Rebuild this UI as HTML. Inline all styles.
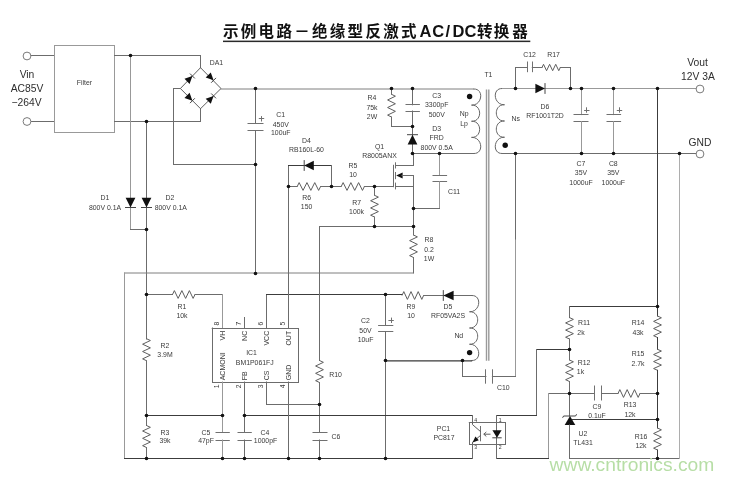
<!DOCTYPE html>
<html lang="zh"><head><meta charset="utf-8"><title>示例电路－绝缘型反激式AC/DC转换器</title>
<style>
html,body{margin:0;padding:0;background:#fff}
body{width:734px;height:480px;overflow:hidden}
svg{display:block;filter:blur(0.35px)}
.w{fill:none;stroke:#6c6c6c;stroke-width:1;stroke-linejoin:miter;stroke-linecap:square}
.l{stroke:#999}.ll{stroke:#adadad}.l2{stroke:#7e7e7e}.m{stroke:#6c6c6c}.d{stroke:#3c3c3c}
.z{stroke:#5e5e5e;stroke-linecap:butt}
.p{stroke:#707070;stroke-linecap:butt}
.q{stroke:#666;stroke-linecap:butt}
.b{stroke:#444;stroke-linecap:butt}
.c{stroke:#9a9a9a;stroke-width:1.4;stroke-linecap:butt}
.k{stroke:#383838;stroke-width:1.25}
.j{fill:#111}
.f{fill:#111}
.t{fill:#fff;stroke:#7a7a7a;stroke-width:1}
text{font-family:"Liberation Sans","Noto Sans CJK SC",sans-serif;text-anchor:middle}
.s{fill:#3a3a3a}
.bt{fill:#2e2e2e}
.ti{font-size:15.5px;font-weight:bold;fill:#111;text-anchor:start}
.la{font-size:16.5px}
.wm{text-anchor:start}
</style></head><body>
<svg width="734" height="480" viewBox="0 0 734 480">
<rect width="734" height="480" fill="#fff"/>
<text class="ti" y="37.4"><tspan x="223 240.8 258.6 276.4 294.2 312 329.8 347.6 365.4 383.2 401">示例电路－绝缘型反激式</tspan><tspan class="la" x="419.4 432.2 445.6 452.4 464.6" y="37.1">AC/DC</tspan><tspan x="476.9 493.8 512.2" y="37.4">转换器</tspan></text>
<rect x="223" y="40.6" width="307.3" height="1.5" fill="#2a2a2a"/>
<line class="w m" x1="30.5" y1="55.5" x2="54.5" y2="55.5"/>
<line class="w m" x1="30.5" y1="121.5" x2="54.5" y2="121.5"/>
<line class="w l" x1="54.5" y1="45.5" x2="114.5" y2="45.5"/>
<line class="w l" x1="114.5" y1="45.5" x2="114.5" y2="132.5"/>
<line class="w l" x1="114.5" y1="132.5" x2="54.5" y2="132.5"/>
<line class="w l" x1="54.5" y1="132.5" x2="54.5" y2="45.5"/>
<circle class="t" cx="27" cy="56" r="3.9"/>
<circle class="t" cx="27" cy="121.5" r="3.9"/>
<line class="w m" x1="114.5" y1="55.5" x2="200.5" y2="55.5"/>
<line class="w m" x1="200.5" y1="55.5" x2="200.5" y2="67.7"/>
<line class="w m" x1="114.5" y1="121.5" x2="200.5" y2="121.5"/>
<line class="w m" x1="200.5" y1="121.5" x2="200.5" y2="108.7"/>
<polygon class="w z" points="200.5,67.7 221,88.5 200.5,108.7 180.4,88.5"/>
<polygon class="f" points="192.4,76 189.58,83.92 184.48,78.82"/>
<polyline class="w b" points="190,73.59 194.81,78.4" stroke-width="0.8"/>
<polygon class="f" points="213.6,80.3 205.68,77.48 210.78,72.38"/>
<polyline class="w b" points="216.01,77.9 211.2,82.71" stroke-width="0.8"/>
<polygon class="f" points="192.4,100.7 184.48,97.88 189.58,92.78"/>
<polyline class="w b" points="194.81,98.3 190,103.11" stroke-width="0.8"/>
<polygon class="f" points="213.6,95.9 210.78,103.82 205.68,98.72"/>
<polyline class="w b" points="211.2,93.49 216.01,98.3" stroke-width="0.8"/>
<line class="w m" x1="180.4" y1="88.5" x2="173.5" y2="88.5"/>
<line class="w m" x1="173.5" y1="88.5" x2="173.5" y2="164.5"/>
<line class="w m" x1="173.5" y1="164.5" x2="255.4" y2="164.5"/>
<line class="w l2" x1="221" y1="89" x2="473.5" y2="89"/>
<line class="w m" x1="255.5" y1="88.4" x2="255.5" y2="123.5"/>
<line class="w p" x1="247.5" y1="123.5" x2="263.5" y2="123.5"/>
<line class="w p" x1="247.5" y1="130.5" x2="263.5" y2="130.5"/>
<line class="w m" x1="255.5" y1="130.5" x2="255.5" y2="273"/>
<line class="w p" x1="258.8" y1="118.5" x2="264.2" y2="118.5" stroke-width="0.9"/>
<line class="w p" x1="261.5" y1="116.1" x2="261.5" y2="121.5" stroke-width="0.9"/>
<line class="w l" x1="130.5" y1="55.5" x2="130.5" y2="229.5"/>
<line class="w m" x1="130.5" y1="229.5" x2="146" y2="229.5"/>
<line class="w m" x1="146.5" y1="121.3" x2="146.5" y2="339"/>
<polygon class="f" points="125.6,197.7 135.4,197.7 130.5,207.5"/>
<line class="w b" x1="125" y1="207.5" x2="136" y2="207.5"/>
<polygon class="f" points="141.6,197.7 151.4,197.7 146.5,207.5"/>
<line class="w b" x1="141" y1="207.5" x2="152" y2="207.5"/>
<polyline class="w z" points="146.5,338.7 150.4,340.53 142.6,344.2 150.4,347.87 142.6,351.53 150.4,355.2 142.6,358.87 146.5,360.7"/>
<line class="w m" x1="146.5" y1="360.7" x2="146.5" y2="425.5"/>
<polyline class="w z" points="146.5,425.5 150.4,427.33 142.6,431 150.4,434.67 142.6,438.33 150.4,442 142.6,445.67 146.5,447.5"/>
<line class="w m" x1="146.5" y1="447.5" x2="146.5" y2="458"/>
<line class="w l2" x1="413" y1="273" x2="124.5" y2="273"/>
<line class="w l" x1="124.5" y1="273" x2="124.5" y2="458.5"/>
<line class="w d" x1="124.5" y1="458.5" x2="472.5" y2="458.5"/>
<line class="w m" x1="472.5" y1="458.5" x2="472.5" y2="444"/>
<line class="w m" x1="146" y1="294.5" x2="172.5" y2="294.5"/>
<polyline class="w z" points="172.5,294.5 174.38,290.6 178.12,298.4 181.88,290.6 185.62,298.4 189.38,290.6 193.12,298.4 195,294.5"/>
<line class="w m" x1="195" y1="294.5" x2="222.5" y2="294.5"/>
<line class="w l" x1="222.5" y1="294.5" x2="222.5" y2="328"/>
<line class="w m" x1="212.2" y1="328.5" x2="298.5" y2="328.5"/>
<line class="w m" x1="298.5" y1="328.5" x2="298.5" y2="382.5"/>
<line class="w m" x1="298.5" y1="382.5" x2="212.5" y2="382.5"/>
<line class="w m" x1="212.5" y1="382.5" x2="212.5" y2="328"/>
<line class="w m" x1="244.5" y1="317.5" x2="244.5" y2="328"/>
<line class="w m" x1="266.5" y1="328" x2="266.5" y2="294.5"/>
<line class="w d" x1="266.5" y1="294.5" x2="402" y2="294.5"/>
<polyline class="w z" points="402,295.5 403.8,291.6 407.4,299.4 411,291.6 414.6,299.4 418.2,291.6 421.8,299.4 423.6,295.5"/>
<line class="w m" x1="423.6" y1="295.5" x2="471.5" y2="295.5"/>
<polygon class="f" points="453.6,290.7 453.6,300.3 443.3,295.5"/>
<line class="w b" x1="443.3" y1="290.1" x2="443.3" y2="300.9"/>
<line class="w m" x1="288.5" y1="328" x2="288.5" y2="165.5"/>
<line class="w d" x1="288.5" y1="165.5" x2="331.5" y2="165.5"/>
<line class="w m" x1="331.5" y1="165.5" x2="331.5" y2="186.7"/>
<polygon class="f" points="313.8,160.7 313.8,170.3 304.2,165.5"/>
<line class="w b" x1="304.2" y1="160.1" x2="304.2" y2="170.9"/>
<line class="w m" x1="288.5" y1="186.5" x2="297.2" y2="186.5"/>
<polyline class="w z" points="297.2,186.5 299.15,182.6 303.05,190.4 306.95,182.6 310.85,190.4 314.75,182.6 318.65,190.4 320.6,186.5"/>
<line class="w m" x1="320.6" y1="186.5" x2="341.2" y2="186.5"/>
<polyline class="w z" points="341.2,186.5 343.13,182.6 347,190.4 350.87,182.6 354.73,190.4 358.6,182.6 362.47,190.4 364.4,186.5"/>
<line class="w m" x1="364.4" y1="186.5" x2="393.2" y2="186.5"/>
<line class="w m" x1="374.5" y1="186.7" x2="374.5" y2="195.3"/>
<polyline class="w z" points="374.5,195.3 378.4,197.11 370.6,200.73 378.4,204.34 370.6,207.96 378.4,211.58 370.6,215.19 374.5,217"/>
<line class="w m" x1="374.5" y1="217" x2="374.5" y2="226.6"/>
<line class="w m" x1="319.6" y1="226.5" x2="413" y2="226.5"/>
<line class="w m" x1="319.5" y1="226.6" x2="319.5" y2="360.5"/>
<polyline class="w z" points="319.5,360.5 323.4,362.33 315.6,366 323.4,369.67 315.6,373.33 323.4,377 315.6,380.67 319.5,382.5"/>
<line class="w m" x1="319.5" y1="382.5" x2="319.5" y2="432.5"/>
<line class="w p" x1="312.5" y1="432.5" x2="327.5" y2="432.5"/>
<line class="w p" x1="312.5" y1="440.5" x2="327.5" y2="440.5"/>
<line class="w m" x1="319.5" y1="440" x2="319.5" y2="458"/>
<line class="w m" x1="413.5" y1="153.6" x2="413.5" y2="165.5"/>
<line class="w m" x1="413.5" y1="165.5" x2="395.8" y2="165.5"/>
<line class="w p" x1="395.5" y1="162.3" x2="395.5" y2="168.5"/>
<line class="w p" x1="395.5" y1="172" x2="395.5" y2="179.2"/>
<line class="w p" x1="395.5" y1="182.6" x2="395.5" y2="189.4"/>
<line class="w m" x1="393.5" y1="165.3" x2="393.5" y2="186.7"/>
<polygon class="f" points="396.2,175.5 402.6,172.5 402.6,178.5"/>
<line class="w m" x1="402" y1="175.5" x2="413" y2="175.5"/>
<line class="w m" x1="395.8" y1="186.5" x2="413" y2="186.5"/>
<line class="w m" x1="413.5" y1="175.6" x2="413.5" y2="235"/>
<polyline class="w z" points="413.5,235 417.4,236.88 409.6,240.62 417.4,244.38 409.6,248.12 417.4,251.88 409.6,255.62 413.5,257.5"/>
<line class="w m" x1="413.5" y1="257.5" x2="413.5" y2="273"/>
<line class="w m" x1="391.5" y1="88.4" x2="391.5" y2="94.3"/>
<polyline class="w z" points="391.5,94.3 395.4,96.19 387.6,99.97 395.4,103.76 387.6,107.54 395.4,111.32 387.6,115.11 391.5,117"/>
<line class="w m" x1="391.5" y1="117" x2="391.5" y2="126.5"/>
<line class="w m" x1="391.5" y1="126.5" x2="412.7" y2="126.5"/>
<line class="w m" x1="412.5" y1="88.4" x2="412.5" y2="104.8"/>
<line class="w p" x1="405.5" y1="104.5" x2="419.9" y2="104.5"/>
<line class="w p" x1="405.5" y1="111.5" x2="419.9" y2="111.5"/>
<line class="w m" x1="412.5" y1="111" x2="412.5" y2="153.6"/>
<polygon class="f" points="407.6,144.4 417.4,144.4 412.5,134.7"/>
<line class="w b" x1="407" y1="134.7" x2="418" y2="134.7"/>
<line class="w m" x1="412.7" y1="153.5" x2="473.5" y2="153.5"/>
<line class="w l" x1="439.5" y1="153.6" x2="439.5" y2="175.2"/>
<line class="w p" x1="432.5" y1="175.5" x2="447.1" y2="175.5"/>
<line class="w p" x1="432.5" y1="181.5" x2="447.1" y2="181.5"/>
<line class="w l" x1="439.5" y1="181.8" x2="439.5" y2="208.5"/>
<line class="w m" x1="439.5" y1="208.5" x2="413" y2="208.5"/>
<path class="w q" d="M473.5,89 C484.41,88.5 482.41,105.62 471.5,105.12 C482.41,104.62 482.41,121.75 471.5,121.25 C482.41,120.75 482.41,137.88 471.5,137.38 C482.41,136.88 484.41,154 473.5,153.5"/>
<line class="w c" x1="486.5" y1="89.5" x2="486.5" y2="360.7"/>
<line class="w c" x1="488.8" y1="89.5" x2="488.8" y2="360.7"/>
<path class="w q" d="M502.5,88.5 C491.59,88 493.59,105.25 504.5,104.75 C493.59,104.25 493.59,121.5 504.5,121 C493.59,120.5 493.59,137.75 504.5,137.25 C493.59,136.75 491.59,154 502.5,153.5"/>
<line class="w l" x1="502.5" y1="88.5" x2="696.3" y2="88.5"/>
<polygon class="f" points="535.4,83.7 535.4,93.3 545,88.5"/>
<line class="w b" x1="545" y1="83.1" x2="545" y2="93.9"/>
<line class="w m" x1="515.5" y1="88.6" x2="515.5" y2="67.5"/>
<line class="w m" x1="515.5" y1="67.5" x2="527" y2="67.5"/>
<line class="w p" x1="527.5" y1="61.5" x2="527.5" y2="72.2"/>
<line class="w p" x1="532.5" y1="61.5" x2="532.5" y2="72.2"/>
<line class="w m" x1="532.3" y1="67.5" x2="542" y2="67.5"/>
<polyline class="w z" points="542,67.5 543.52,64.3 546.57,70.7 549.62,64.3 552.67,70.7 555.72,64.3 558.77,70.7 560.3,67.5"/>
<line class="w m" x1="560.3" y1="67.5" x2="570.5" y2="67.5"/>
<line class="w m" x1="570.5" y1="67.5" x2="570.5" y2="88.6"/>
<circle class="t" cx="700" cy="89" r="3.9"/>
<line class="w l" x1="581.5" y1="88.6" x2="581.5" y2="114.6"/>
<line class="w p" x1="573.5" y1="114.5" x2="588.5" y2="114.5"/>
<line class="w p" x1="573.5" y1="121.5" x2="588.5" y2="121.5"/>
<line class="w l" x1="581.5" y1="121.6" x2="581.5" y2="153.6"/>
<line class="w p" x1="584.1" y1="110.5" x2="589.5" y2="110.5" stroke-width="0.9"/>
<line class="w p" x1="586.5" y1="107.3" x2="586.5" y2="112.7" stroke-width="0.9"/>
<line class="w l" x1="613.5" y1="88.6" x2="613.5" y2="114.6"/>
<line class="w p" x1="606.5" y1="114.5" x2="621.1" y2="114.5"/>
<line class="w p" x1="606.5" y1="121.5" x2="621.1" y2="121.5"/>
<line class="w l" x1="613.5" y1="121.6" x2="613.5" y2="153.6"/>
<line class="w p" x1="616.8" y1="110.5" x2="622.2" y2="110.5" stroke-width="0.9"/>
<line class="w p" x1="619.5" y1="107.3" x2="619.5" y2="112.7" stroke-width="0.9"/>
<line class="w m" x1="502.5" y1="153.5" x2="696.3" y2="153.5"/>
<circle class="t" cx="700" cy="154" r="3.9"/>
<line class="w m" x1="515.5" y1="153.6" x2="515.5" y2="240"/>
<line class="w l" x1="515.5" y1="240" x2="515.5" y2="376.5"/>
<line class="w m" x1="515.5" y1="376.5" x2="492.4" y2="376.5"/>
<line class="w p" x1="485.5" y1="369.3" x2="485.5" y2="383.7"/>
<line class="w p" x1="492.5" y1="369.3" x2="492.5" y2="383.7"/>
<line class="w m" x1="485.9" y1="376.5" x2="462.5" y2="376.5"/>
<line class="w m" x1="462.5" y1="376.5" x2="462.5" y2="360.7"/>
<path class="w q" d="M471.5,295.5 C482.41,295 480.41,312.25 469.5,311.75 C480.41,311.25 480.41,328.5 469.5,328 C480.41,327.5 480.41,344.75 469.5,344.25 C480.41,343.75 482.41,361 471.5,360.5"/>
<line class="w k" x1="471.5" y1="360.9" x2="385.7" y2="360.9"/>
<line class="w m" x1="385.5" y1="294.5" x2="385.5" y2="325"/>
<line class="w p" x1="378.1" y1="325.5" x2="393.3" y2="325.5"/>
<line class="w p" x1="378.1" y1="331.5" x2="393.3" y2="331.5"/>
<line class="w m" x1="385.5" y1="331.7" x2="385.5" y2="458"/>
<line class="w p" x1="388.4" y1="320.5" x2="393.8" y2="320.5" stroke-width="0.9"/>
<line class="w p" x1="391.5" y1="317.6" x2="391.5" y2="323" stroke-width="0.9"/>
<line class="w d" x1="657.5" y1="88.6" x2="657.5" y2="316"/>
<polyline class="w z" points="657.5,316 661.4,317.79 653.6,321.38 661.4,324.96 653.6,328.54 661.4,332.12 653.6,335.71 657.5,337.5"/>
<line class="w d" x1="657.5" y1="337.5" x2="657.5" y2="349.3"/>
<polyline class="w z" points="657.5,349.3 661.4,351.05 653.6,354.55 661.4,358.05 653.6,361.55 661.4,365.05 653.6,368.55 657.5,370.3"/>
<line class="w d" x1="657.5" y1="370.3" x2="657.5" y2="428"/>
<polyline class="w z" points="657.5,428 661.4,429.83 653.6,433.5 661.4,437.17 653.6,440.83 661.4,444.5 653.6,448.17 657.5,450"/>
<line class="w d" x1="657.5" y1="450" x2="657.5" y2="458"/>
<line class="w d" x1="657.5" y1="306.5" x2="569.5" y2="306.5"/>
<line class="w m" x1="569.5" y1="306.5" x2="569.5" y2="317.6"/>
<polyline class="w z" points="569.5,317.6 573.4,319.38 565.6,322.95 573.4,326.52 565.6,330.08 573.4,333.65 565.6,337.22 569.5,339"/>
<line class="w m" x1="569.5" y1="339" x2="569.5" y2="360"/>
<polyline class="w z" points="569.5,360 573.4,361.79 565.6,365.38 573.4,368.96 565.6,372.54 573.4,376.12 565.6,379.71 569.5,381.5"/>
<line class="w m" x1="569.5" y1="381.5" x2="569.5" y2="416"/>
<line class="w d" x1="569.5" y1="349.5" x2="536.5" y2="349.5"/>
<line class="w m" x1="536.5" y1="349.5" x2="536.5" y2="415.5"/>
<line class="w d" x1="536.5" y1="415.5" x2="496.5" y2="415.5"/>
<line class="w m" x1="496.5" y1="415.5" x2="496.5" y2="422.5"/>
<line class="w m" x1="569.5" y1="393.5" x2="548.5" y2="393.5"/>
<line class="w l" x1="548.5" y1="393.5" x2="548.5" y2="458.5"/>
<line class="w d" x1="548.5" y1="458.5" x2="496.5" y2="458.5"/>
<line class="w m" x1="496.5" y1="458.5" x2="496.5" y2="444"/>
<line class="w m" x1="569.5" y1="393.5" x2="594.5" y2="393.5"/>
<line class="w p" x1="594.5" y1="385.5" x2="594.5" y2="400.5"/>
<line class="w p" x1="601.5" y1="385.5" x2="601.5" y2="400.5"/>
<line class="w m" x1="601.5" y1="393.5" x2="618" y2="393.5"/>
<polyline class="w z" points="618,393.5 619.83,389.6 623.5,397.4 627.17,389.6 630.83,397.4 634.5,389.6 638.17,397.4 640,393.5"/>
<line class="w m" x1="640" y1="393.5" x2="657.5" y2="393.5"/>
<polyline class="w b" points="562.6,417.8 563.6,416 575.6,416 576.6,414.2"/>
<polygon class="f" points="570,416 564.7,425 575.3,425"/>
<line class="w m" x1="569.5" y1="425" x2="569.5" y2="458.5"/>
<line class="w m" x1="569.5" y1="458.5" x2="679.5" y2="458.5"/>
<line class="w ll" x1="679.5" y1="458.5" x2="679.5" y2="153.6"/>
<line class="w d" x1="572.5" y1="419.5" x2="657.5" y2="419.5"/>
<line class="w l" x1="222.5" y1="382" x2="222.5" y2="432.5"/>
<line class="w p" x1="215.5" y1="432.5" x2="229.8" y2="432.5"/>
<line class="w p" x1="215.5" y1="440.5" x2="229.8" y2="440.5"/>
<line class="w l" x1="222.5" y1="440" x2="222.5" y2="458"/>
<line class="w d" x1="146" y1="415.5" x2="222.7" y2="415.5"/>
<line class="w m" x1="244.5" y1="382" x2="244.5" y2="432.5"/>
<line class="w p" x1="237.5" y1="432.5" x2="251.8" y2="432.5"/>
<line class="w p" x1="237.5" y1="440.5" x2="251.8" y2="440.5"/>
<line class="w m" x1="244.5" y1="440" x2="244.5" y2="458"/>
<line class="w d" x1="244.7" y1="415.5" x2="472.5" y2="415.5"/>
<line class="w m" x1="472.5" y1="415.5" x2="472.5" y2="422.5"/>
<line class="w m" x1="266.5" y1="382" x2="266.5" y2="404.5"/>
<line class="w m" x1="266.5" y1="404.5" x2="319.6" y2="404.5"/>
<line class="w m" x1="288.5" y1="382" x2="288.5" y2="458"/>
<line class="w m" x1="469.3" y1="422.5" x2="505.5" y2="422.5"/>
<line class="w m" x1="505.5" y1="422.5" x2="505.5" y2="444.5"/>
<line class="w m" x1="505.5" y1="444.5" x2="469.5" y2="444.5"/>
<line class="w m" x1="469.5" y1="444.5" x2="469.5" y2="422.5"/>
<line class="w p" x1="480.5" y1="426" x2="480.5" y2="441.3"/>
<polyline class="w z" points="472.5,422.5 472.5,424.6 480.8,431.8"/>
<polyline class="w z" points="480.8,435.2 472.5,442.2 472.5,444"/>
<polygon class="f" points="472.6,442.4 475.4,436.4 478.8,440.3"/>
<line class="w m" x1="496.5" y1="422.5" x2="496.5" y2="444"/>
<polygon class="f" points="492.4,430.2 501.6,430.2 497,437.8"/>
<line class="w b" x1="492.3" y1="437.8" x2="501.7" y2="437.8"/>
<polyline class="w z" points="490.5,434.2 483.8,434.2" stroke-width="0.8"/>
<polyline class="w z" points="486.3,432 483.8,434.2 486.3,436.4" stroke-width="0.8"/>
<circle class="j" cx="130.5" cy="55.5" r="1.8"/>
<circle class="j" cx="146.5" cy="121.5" r="1.8"/>
<circle class="j" cx="255.5" cy="164.5" r="1.8"/>
<circle class="j" cx="255.5" cy="88.5" r="1.8"/>
<circle class="j" cx="391.5" cy="88.5" r="1.8"/>
<circle class="j" cx="412.5" cy="88.5" r="1.8"/>
<circle class="j" cx="255.5" cy="273.5" r="1.8"/>
<circle class="j" cx="146.5" cy="229.5" r="1.8"/>
<circle class="j" cx="146.5" cy="294.5" r="1.8"/>
<circle class="j" cx="146.5" cy="415.5" r="1.8"/>
<circle class="j" cx="146.5" cy="458.5" r="1.8"/>
<circle class="j" cx="385.5" cy="294.5" r="1.8"/>
<circle class="j" cx="288.5" cy="186.5" r="1.8"/>
<circle class="j" cx="331.5" cy="186.5" r="1.8"/>
<circle class="j" cx="374.5" cy="186.5" r="1.8"/>
<circle class="j" cx="374.5" cy="226.5" r="1.8"/>
<circle class="j" cx="413.5" cy="226.5" r="1.8"/>
<circle class="j" cx="319.5" cy="404.5" r="1.8"/>
<circle class="j" cx="319.5" cy="458.5" r="1.8"/>
<circle class="j" cx="413.5" cy="208.5" r="1.8"/>
<circle class="j" cx="412.5" cy="126.5" r="1.8"/>
<circle class="j" cx="412.5" cy="153.5" r="1.8"/>
<circle class="j" cx="439.5" cy="153.5" r="1.8"/>
<circle class="j" cx="469.6" cy="96.5" r="2.7"/>
<circle class="j" cx="505.2" cy="145.3" r="2.7"/>
<circle class="j" cx="515.5" cy="88.5" r="1.8"/>
<circle class="j" cx="570.5" cy="88.5" r="1.8"/>
<circle class="j" cx="581.5" cy="88.5" r="1.8"/>
<circle class="j" cx="613.5" cy="88.5" r="1.8"/>
<circle class="j" cx="657.5" cy="88.5" r="1.8"/>
<circle class="j" cx="581.5" cy="153.5" r="1.8"/>
<circle class="j" cx="613.5" cy="153.5" r="1.8"/>
<circle class="j" cx="515.5" cy="153.5" r="1.8"/>
<circle class="j" cx="679.5" cy="153.5" r="1.8"/>
<circle class="j" cx="469.6" cy="352.6" r="2.7"/>
<circle class="j" cx="462.5" cy="360.5" r="1.8"/>
<circle class="j" cx="385.5" cy="360.5" r="1.8"/>
<circle class="j" cx="385.5" cy="458.5" r="1.8"/>
<circle class="j" cx="657.5" cy="306.5" r="1.8"/>
<circle class="j" cx="657.5" cy="393.5" r="1.8"/>
<circle class="j" cx="657.5" cy="419.5" r="1.8"/>
<circle class="j" cx="657.5" cy="458.5" r="1.8"/>
<circle class="j" cx="569.5" cy="349.5" r="1.8"/>
<circle class="j" cx="569.5" cy="393.5" r="1.8"/>
<circle class="j" cx="222.5" cy="415.5" r="1.8"/>
<circle class="j" cx="222.5" cy="458.5" r="1.8"/>
<circle class="j" cx="244.5" cy="415.5" r="1.8"/>
<circle class="j" cx="244.5" cy="458.5" r="1.8"/>
<circle class="j" cx="288.5" cy="458.5" r="1.8"/>
<text class="bt" x="27" y="78.49" font-size="10.3">Vin</text>
<text class="bt" x="27" y="91.99" font-size="10.3">AC85V</text>
<text class="bt" x="26.5" y="105.59" font-size="10.3">−264V</text>
<text class="bt" x="697.5" y="65.99" font-size="10.3">Vout</text>
<text class="bt" x="698" y="79.99" font-size="10.3">12V 3A</text>
<text class="bt" x="700" y="146.49" font-size="10.3">GND</text>
<text class="s" x="84.4" y="85.47" font-size="6.9">Filter</text>
<text class="s" x="216.4" y="64.97" font-size="6.9">DA1</text>
<text class="s" x="280.6" y="117.07" font-size="6.9">C1</text>
<text class="s" x="280.8" y="126.77" font-size="6.9">450V</text>
<text class="s" x="280.8" y="135.47" font-size="6.9">100uF</text>
<text class="s" x="105" y="200.27" font-size="6.9">D1</text>
<text class="s" x="105" y="209.77" font-size="6.9">800V 0.1A</text>
<text class="s" x="170" y="200.27" font-size="6.9">D2</text>
<text class="s" x="170.8" y="209.77" font-size="6.9">800V 0.1A</text>
<text class="s" x="306.5" y="142.77" font-size="6.9">D4</text>
<text class="s" x="306.5" y="152.27" font-size="6.9">RB160L-60</text>
<text class="s" x="353" y="167.97" font-size="6.9">R5</text>
<text class="s" x="353" y="176.97" font-size="6.9">10</text>
<text class="s" x="306.6" y="200.07" font-size="6.9">R6</text>
<text class="s" x="306.6" y="209.37" font-size="6.9">150</text>
<text class="s" x="356.6" y="205.07" font-size="6.9">R7</text>
<text class="s" x="356.6" y="214.17" font-size="6.9">100k</text>
<text class="s" x="372" y="100.47" font-size="6.9">R4</text>
<text class="s" x="372" y="109.77" font-size="6.9">75k</text>
<text class="s" x="372" y="118.77" font-size="6.9">2W</text>
<text class="s" x="436.7" y="97.77" font-size="6.9">C3</text>
<text class="s" x="436.7" y="107.17" font-size="6.9">3300pF</text>
<text class="s" x="436.7" y="116.57" font-size="6.9">500V</text>
<text class="s" x="436.7" y="130.77" font-size="6.9">D3</text>
<text class="s" x="436.7" y="139.77" font-size="6.9" fill="#8a8a8a">FRD</text>
<text class="s" x="436.7" y="149.57" font-size="6.9">800V 0.5A</text>
<text class="s" x="379.5" y="148.57" font-size="6.9">Q1</text>
<text class="s" x="379.5" y="157.77" font-size="6.9">R8005ANX</text>
<text class="s" x="454" y="193.77" font-size="6.9">C11</text>
<text class="s" x="429" y="241.77" font-size="6.9">R8</text>
<text class="s" x="429" y="251.57" font-size="6.9">0.2</text>
<text class="s" x="429" y="260.77" font-size="6.9">1W</text>
<text class="s" x="488.4" y="77.37" font-size="6.9">T1</text>
<text class="s" x="464.2" y="116.27" font-size="6.9">Np</text>
<text class="s" x="464" y="126.17" font-size="6.9">Lp</text>
<text class="s" x="515.7" y="120.77" font-size="6.9">Ns</text>
<text class="s" x="529.5" y="56.77" font-size="6.9">C12</text>
<text class="s" x="553.5" y="56.77" font-size="6.9">R17</text>
<text class="s" x="545" y="109.47" font-size="6.9">D6</text>
<text class="s" x="545" y="118.27" font-size="6.9">RF1001T2D</text>
<text class="s" x="581" y="166.17" font-size="6.9">C7</text>
<text class="s" x="581" y="175.37" font-size="6.9">35V</text>
<text class="s" x="581" y="184.57" font-size="6.9">1000uF</text>
<text class="s" x="613.3" y="166.17" font-size="6.9">C8</text>
<text class="s" x="613.3" y="175.37" font-size="6.9">35V</text>
<text class="s" x="613.3" y="184.57" font-size="6.9">1000uF</text>
<text class="s" x="182" y="308.77" font-size="6.9">R1</text>
<text class="s" x="182" y="318.27" font-size="6.9">10k</text>
<text class="s" x="165" y="347.77" font-size="6.9">R2</text>
<text class="s" x="165" y="357.27" font-size="6.9">3.9M</text>
<text class="s" x="165" y="434.77" font-size="6.9">R3</text>
<text class="s" x="165" y="443.27" font-size="6.9">39k</text>
<text class="s" x="365.5" y="323.27" font-size="6.9">C2</text>
<text class="s" x="365.5" y="332.77" font-size="6.9">50V</text>
<text class="s" x="365.5" y="341.77" font-size="6.9">10uF</text>
<text class="s" x="411" y="309.27" font-size="6.9">R9</text>
<text class="s" x="411" y="318.27" font-size="6.9">10</text>
<text class="s" x="448" y="309.27" font-size="6.9">D5</text>
<text class="s" x="448" y="318.27" font-size="6.9">RF05VA2S</text>
<text class="s" x="458.8" y="338.27" font-size="6.9">Nd</text>
<text class="s" x="503.3" y="389.77" font-size="6.9">C10</text>
<text class="s" x="335.5" y="376.77" font-size="6.9">R10</text>
<text class="s" x="206" y="434.77" font-size="6.9">C5</text>
<text class="s" x="206" y="443.27" font-size="6.9">47pF</text>
<text class="s" x="265" y="434.77" font-size="6.9">C4</text>
<text class="s" x="265.5" y="443.27" font-size="6.9">1000pF</text>
<text class="s" x="336" y="438.77" font-size="6.9">C6</text>
<text class="s" x="443.5" y="430.77" font-size="6.9">PC1</text>
<text class="s" x="444" y="440.27" font-size="6.9">PC817</text>
<text class="s" x="584" y="325.27" font-size="6.9">R11</text>
<text class="s" x="581" y="335.27" font-size="6.9">2k</text>
<text class="s" x="584" y="364.57" font-size="6.9">R12</text>
<text class="s" x="580.5" y="373.77" font-size="6.9">1k</text>
<text class="s" x="638" y="325.27" font-size="6.9">R14</text>
<text class="s" x="638" y="335.27" font-size="6.9">43k</text>
<text class="s" x="638" y="356.37" font-size="6.9">R15</text>
<text class="s" x="638" y="366.27" font-size="6.9">2.7k</text>
<text class="s" x="597" y="408.77" font-size="6.9">C9</text>
<text class="s" x="597" y="417.77" font-size="6.9">0.1uF</text>
<text class="s" x="630" y="407.27" font-size="6.9">R13</text>
<text class="s" x="630" y="416.77" font-size="6.9">12k</text>
<text class="s" x="641" y="438.77" font-size="6.9">R16</text>
<text class="s" x="641" y="447.77" font-size="6.9">12k</text>
<text class="s" x="583" y="435.77" font-size="6.9">U2</text>
<text class="s" x="583" y="444.77" font-size="6.9">TL431</text>
<text class="s" x="251.5" y="354.77" font-size="6.9">IC1</text>
<text class="s" x="254.8" y="365.07" font-size="6.9">BM1P061FJ</text>
<text class="s" transform="translate(225.4 330.8) rotate(-90)" font-size="7" style="text-anchor:end">VH</text>
<text class="s" transform="translate(247.2 330.8) rotate(-90)" font-size="7" style="text-anchor:end">NC</text>
<text class="s" transform="translate(269.2 330.8) rotate(-90)" font-size="7" style="text-anchor:end">VCC</text>
<text class="s" transform="translate(291 330.8) rotate(-90)" font-size="7" style="text-anchor:end">OUT</text>
<text class="s" transform="translate(225.4 380.3) rotate(-90)" font-size="7" style="text-anchor:start">ACMONI</text>
<text class="s" transform="translate(247.2 380.3) rotate(-90)" font-size="7" style="text-anchor:start">FB</text>
<text class="s" transform="translate(269.2 380.3) rotate(-90)" font-size="7" style="text-anchor:start">CS</text>
<text class="s" transform="translate(291 380.3) rotate(-90)" font-size="7" style="text-anchor:start">GND</text>
<text class="s" transform="translate(219.4 323.6) rotate(-90)" font-size="6.8">8</text>
<text class="s" transform="translate(241.2 323.6) rotate(-90)" font-size="6.8">7</text>
<text class="s" transform="translate(263 323.6) rotate(-90)" font-size="6.8">6</text>
<text class="s" transform="translate(284.8 323.6) rotate(-90)" font-size="6.8">5</text>
<text class="s" transform="translate(218.7 386.3) rotate(-90)" font-size="6.8">1</text>
<text class="s" transform="translate(240.5 386.3) rotate(-90)" font-size="6.8">2</text>
<text class="s" transform="translate(262.5 386.3) rotate(-90)" font-size="6.8">3</text>
<text class="s" transform="translate(284.5 386.3) rotate(-90)" font-size="6.8">4</text>
<text class="s" x="475.6" y="422.06" font-size="5.2">4</text>
<text class="s" x="500.2" y="422.06" font-size="5.2">1</text>
<text class="s" x="475.6" y="449.36" font-size="5.2">3</text>
<text class="s" x="500.2" y="449.36" font-size="5.2">2</text>
<text x="549.6" y="470.6" font-size="19.25" fill="#b7dea6" class="wm">www.cntronics.com</text>
</svg>
</body></html>
